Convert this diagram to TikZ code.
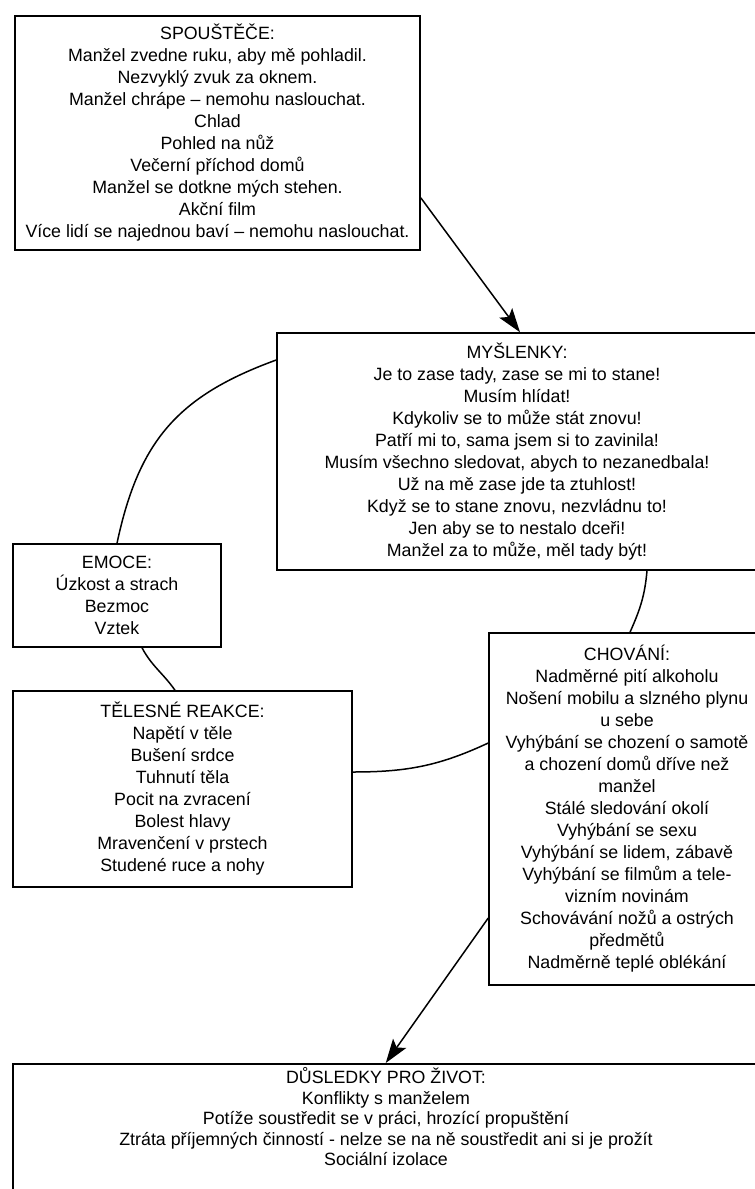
\documentclass[tikz,border=0pt]{standalone}
\usepackage{fontspec}
\setmainfont{Liberation Sans}
\usetikzlibrary{arrows.meta}
\begin{document}
\begin{tikzpicture}[x=1pt,y=1pt,
  box/.style={draw, line width=1.5pt, align=center, inner sep=0pt,
    font=\fontsize{17.8}{22}\selectfont},
  txt/.style={align=center, inner sep=0pt, font=\fontsize{17.8}{20.5}\selectfont},
  link/.style={line width=1.5pt},
  arr/.style={line width=1.5pt, -{Stealth[length=24pt,width=16pt,inset=5pt]}}]
\useasboundingbox (0,0) rectangle (755,-1189);
\clip (0,0) rectangle (755,-1189);

\node[box, minimum width=405pt, minimum height=234pt] (trig) at (217.5,-133) {%
SPOUŠTĚČE:\\
Manžel zvedne ruku, aby mě pohladil.\\
Nezvyklý zvuk za oknem.\\
Manžel chrápe – nemohu naslouchat.\\
Chlad\\
Pohled na nůž\\
Večerní příchod domů\\
Manžel se dotkne mých stehen.\\
Akční film\\
Více lidí se najednou baví – nemohu naslouchat.};

\node[box, minimum width=480pt, minimum height=237pt] (thought) at (517,-451.5) {%
MYŠLENKY:\\
Je to zase tady, zase se mi to stane!\\
Musím hlídat!\\
Kdykoliv se to může stát znovu!\\
Patří mi to, sama jsem si to zavinila!\\
Musím všechno sledovat, abych to nezanedbala!\\
Už na mě zase jde ta ztuhlost!\\
Když se to stane znovu, nezvládnu to!\\
Jen aby se to nestalo dceři!\\
Manžel za to může, měl tady být!};

\node[box, minimum width=208pt, minimum height=103pt] (emo) at (117,-595.5) {%
EMOCE:\\
Úzkost a strach\\
Bezmoc\\
Vztek};

\node[box, minimum width=339pt, minimum height=196pt] (body) at (182.5,-789) {%
TĚLESNÉ REAKCE:\\
Napětí v těle\\
Bušení srdce\\
Tuhnutí těla\\
Pocit na zvracení\\
Bolest hlavy\\
Mravenčení v prstech\\
Studené ruce a nohy};

\node[box, minimum width=276pt, minimum height=352pt] (behav) at (627,-809) {%
CHOVÁNÍ:\\
Nadměrné pití alkoholu\\
Nošení mobilu a slzného plynu\\
u sebe\\
Vyhýbání se chození o samotě\\
a chození domů dříve než\\
manžel\\
Stálé sledování okolí\\
Vyhýbání se sexu\\
Vyhýbání se lidem, zábavě\\
Vyhýbání se filmům a tele-\\
vizním novinám\\
Schovávání nožů a ostrých\\
předmětů\\
Nadměrně teplé oblékání};

\node[draw, line width=1.5pt, minimum width=748pt, minimum height=200pt,
  anchor=north west, inner sep=0pt] (conseqbox) at (12,-1063) {};
\node[txt] (conseq) at (386,-1117) {%
DŮSLEDKY PRO ŽIVOT:\\
Konflikty s manželem\\
Potíže soustředit se v práci, hrozící propuštění\\
Ztráta příjemných činností - nelze se na ně soustředit ani si je prožít\\
Sociální izolace};

% arrows
\draw[arr] ([yshift=53pt]trig.south east) -- ([xshift=3pt]thought.north);
\draw[arr] ([yshift=-109pt]behav.west) -- ([xshift=-1pt]conseqbox.north);

% cycle connectors
\draw[link] ([yshift=91.5pt]thought.west) to[out=200,in=78,looseness=1.1] (emo.north);
\draw[link] ([xshift=25pt]emo.south) to[out=-62,in=125] ([xshift=-7.5pt]body.north);
\draw[link] ([yshift=17pt]body.east) to[out=0,in=205] ([yshift=66pt]behav.west);
\draw[link] ([xshift=130pt]thought.south) to[out=-95,in=66] ([xshift=3pt]behav.north);
\end{tikzpicture}
\end{document}
